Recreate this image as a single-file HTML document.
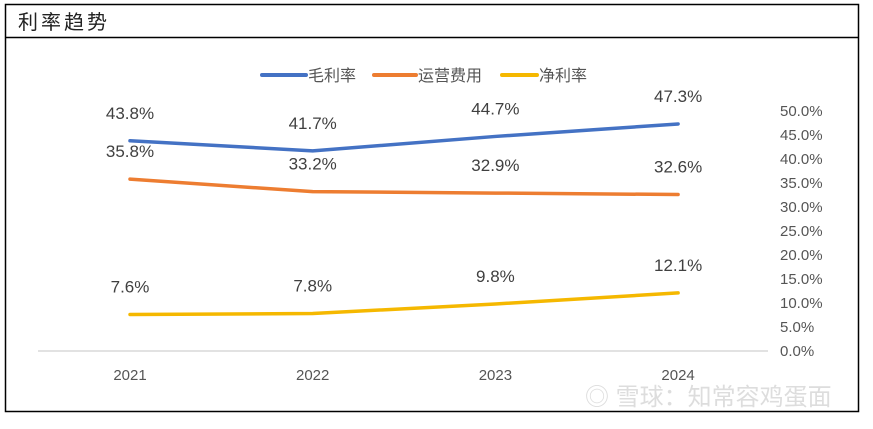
<!DOCTYPE html>
<html><head><meta charset="utf-8"><style>
body{margin:0;background:#fff;width:873px;height:424px;overflow:hidden;font-family:"Liberation Sans","Noto Sans CJK SC",sans-serif}
svg text{font-family:"Liberation Sans","Noto Sans CJK SC",sans-serif}
</style></head><body>
<svg width="873" height="424">
<rect x="5.5" y="4.5" width="853" height="407" fill="#fff" stroke="#000" stroke-width="1.5"/>
<line x1="5" y1="37.5" x2="858" y2="37.5" stroke="#000" stroke-width="1.5"/>
<text x="18" y="29" font-size="20" fill="#222" letter-spacing="3">利率趋势</text>
<g>
<line x1="262" y1="75" x2="306" y2="75" stroke="#4472C4" stroke-width="4" stroke-linecap="round"/>
<text x="308" y="81" font-size="16" fill="#555">毛利率</text>
<line x1="374" y1="75" x2="416" y2="75" stroke="#ED7D31" stroke-width="4" stroke-linecap="round"/>
<text x="418" y="81" font-size="16" fill="#555">运营费用</text>
<line x1="502" y1="75" x2="537" y2="75" stroke="#F5B800" stroke-width="4" stroke-linecap="round"/>
<text x="539" y="81" font-size="16" fill="#555">净利率</text>
</g>
<line x1="38" y1="351" x2="768" y2="351" stroke="#d9d9d9" stroke-width="1.5"/>
<g id="marks"></g>
<text x="585" y="405" font-size="24" fill="#ddd">◎ 雪球：知常容鸡蛋面</text>
</svg>
<script>
const categories=["2021","2022","2023","2024"];
const grossMargin=[43.8,41.7,44.7,47.3];
const opex=[35.8,33.2,32.9,32.6];
const netMargin=[7.6,7.8,9.8,12.1];
const yTicks=[0,5,10,15,20,25,30,35,40,45,50];
const NS="http://www.w3.org/2000/svg";
const g=document.getElementById("marks");
const x=i=>130+i*182.7;
const y=v=>351-v*4.8;
function mk(t,a){const e=document.createElementNS(NS,t);for(const k in a)e.setAttribute(k,a[k]);g.appendChild(e);return e;}
yTicks.forEach(v=>{const t=mk("text",{x:780,y:y(v)+5,"font-size":15,fill:"#555"});t.textContent=v.toFixed(1)+"%";

});
categories.forEach((c,i)=>{const t=mk("text",{x:x(i),y:380,"font-size":15,fill:"#555","text-anchor":"middle"});t.textContent=c;

});
const series=[["gross-margin",grossMargin,"#4472C4"],["opex",opex,"#ED7D31"],["net-margin",netMargin,"#F5B800"]];
series.forEach(([n,d,col])=>{
 const p=mk("polyline",{points:d.map((v,i)=>x(i)+","+y(v)).join(" "),fill:"none",stroke:col,"stroke-width":3.5,"stroke-linejoin":"round","stroke-linecap":"round"});
 
 
 d.forEach((v,i)=>{const t=mk("text",{x:x(i),y:y(v)-22,"font-size":17,fill:"#404040","text-anchor":"middle"});t.textContent=v.toFixed(1)+"%";
 
 });
});
</script>
</body></html>
